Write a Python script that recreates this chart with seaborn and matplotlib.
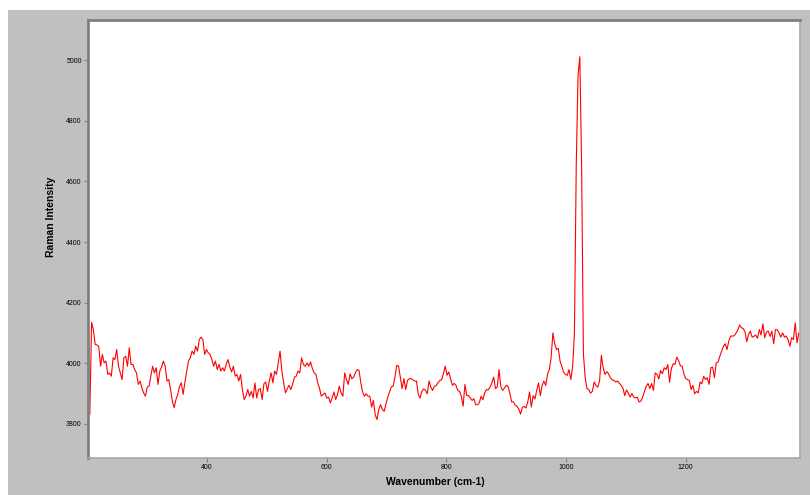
import numpy as np
import pandas as pd
import matplotlib
matplotlib.use("Agg")
import matplotlib.pyplot as plt
from matplotlib.patches import Rectangle
import seaborn as sns

# ---- data (3 cm-1 sampling) ----
seg1_start = 204
seg1 = [3830, 4135, 4110, 4062, 4060, 4055, 3990, 4029, 4001, 4007,
        3963, 3968, 3957, 4018, 4012, 4045, 3990, 3968, 3946, 4018,
        4023, 3990, 4051, 3996, 3996, 3979, 3968, 3930, 3941, 3919,
        3902, 3891, 3921, 3924, 3957, 3990, 3968, 3985, 3930, 3974,
        3987, 4007, 3990, 3941, 3946, 3913, 3875, 3853, 3880, 3897,
        3924, 3935, 3897, 3938, 3974, 4007, 4018, 4040, 4029, 4056,
        4040, 4078, 4086, 4078, 4029, 4045, 4034]
seg2_start = 405
seg2 = [4029, 4012, 3990, 4007, 3979, 3996, 3974, 3985, 3974, 3996,
        4012, 3987, 3971, 3990, 3957, 3963, 3941, 3963, 3913, 3880,
        3891, 3913, 3891, 3907, 3885, 3935, 3885, 3913, 3916, 3880,
        3932, 3938, 3907, 3941, 3968, 3935, 3974, 3963, 4001, 4040,
        3974, 3935, 3902, 3916, 3927, 3913, 3930, 3954, 3957, 3974,
        3968, 4018, 3996, 3990, 4001, 3990, 4004, 3982, 3968, 3963,
        3935, 3916, 3891, 3897, 3902, 3885, 3888, 3869, 3885, 3905]
seg3_start = 615
seg3 = [3880, 3897, 3924, 3902, 3891, 3968, 3946, 3930, 3965, 3949,
        3954, 3969, 3979, 3976, 3935, 3905, 3891, 3899, 3891, 3891,
        3855, 3877, 3830, 3814, 3847, 3863, 3847, 3841, 3866, 3888,
        3905, 3922, 3924, 3954, 3993, 3990, 3954, 3916, 3949, 3913,
        3943, 3949, 3949, 3945, 3941, 3941, 3897, 3885, 3907, 3915,
        3911, 3899, 3941, 3921, 3910, 3924, 3926, 3936, 3943, 3945,
        3965, 3990, 3960, 3971, 3949, 3927, 3933, 3927, 3910]
seg4_start = 822
seg4 = [3907, 3891, 3858, 3930, 3893, 3893, 3885, 3877, 3883, 3863,
        3863, 3869, 3891, 3879, 3902, 3913, 3912, 3921, 3935, 3954,
        3916, 3921, 3979, 3921, 3910, 3918, 3927, 3924, 3901, 3872,
        3873, 3861, 3858, 3849, 3832, 3855, 3857, 3852, 3872, 3905,
        3855, 3893, 3882, 3911, 3935, 3893, 3927, 3941, 3926, 3963,
        3979, 4018, 4100, 4064, 4045, 4049, 4007, 3988, 3970, 3963,
        3960, 3979, 3946, 3990, 4100, 4650, 4950, 5012, 4650, 4030]
seg5_start = 1032
seg5 = [3952, 3916, 3913, 3901, 3907, 3938, 3927, 3921, 3941, 4026,
        3985, 3963, 3972, 3965, 3952, 3945, 3943, 3938, 3941, 3934,
        3927, 3918, 3893, 3912, 3902, 3888, 3900, 3889, 3885, 3888,
        3872, 3875, 3888, 3907, 3924, 3933, 3916, 3933, 3910, 3968,
        3963, 3948, 3976, 3965, 3985, 3979, 3996, 3937, 3982, 3998,
        3996, 4020, 4009, 3992, 3990, 3965, 3949, 3946, 3943, 3913,
        3927, 3899, 3907, 3902, 3938, 3932, 3957, 3946, 3952, 3930,
        3985]
seg6_start = 1245
seg6 = [3987, 3952, 4001, 4004, 4023, 4040, 4056, 4064, 4045, 4073,
        4089, 4090, 4090, 4099, 4109, 4126, 4117, 4115, 4104, 4071,
        4095, 4106, 4086, 4089, 4093, 4082, 4111, 4093, 4130, 4084,
        4103, 4106, 4088, 4106, 4064, 4111, 4110, 4100, 4086, 4100,
        4086, 4090, 4078, 4056, 4084, 4078, 4133, 4067, 4100]
step_cm = 3

x_ticks = [400, 600, 800, 1000, 1200]
y_ticks = [3800, 4000, 4200, 4400, 4600, 4800, 5000]
x_label = "Wavenumber (cm-1)"
y_label = "Raman Intensity"

segments = [(seg1_start, seg1), (seg2_start, seg2), (seg3_start, seg3),
            (seg4_start, seg4), (seg5_start, seg5), (seg6_start, seg6)]
wn, inten = [], []
for s, vals in segments:
    wn.extend(s + step_cm * np.arange(len(vals)))
    inten.extend(vals)
df = pd.DataFrame({"wavenumber": wn, "intensity": inten})

# ---- styling ----
sns.set_style("white")
plt.rcParams["font.family"] = ["Liberation Sans", "DejaVu Sans"]

W, H = 810, 495
fig = plt.figure(figsize=(W / 100, H / 100), dpi=100)
fig.patch.set_facecolor("white")
fig.patches.append(Rectangle((8 / W, 0), 1 - 8 / W, 1 - 10 / H,
                             transform=fig.transFigure, facecolor="#c0c0c0",
                             edgecolor="none", zorder=-10))

ax = fig.add_axes([88 / W, 1 - 458 / H, (800 - 88) / W, (458 - 20) / H])
ax.set_facecolor("white")

sns.lineplot(data=df, x="wavenumber", y="intensity", ax=ax, color="#ff0000",
             linewidth=0.8, estimator=None, sort=False)

ax.set_xlim(201, 1391)
ax.set_ylim(3687, 5133)
ax.set_xticks(x_ticks)
ax.set_yticks(y_ticks)
ax.tick_params(axis="both", which="major", direction="out", length=3,
               width=0.8, color="#808080", labelsize=5, pad=1.5,
               labelcolor="#000000", bottom=True, left=True)

for side in ["left", "top"]:
    ax.spines[side].set_color("#808080")
    ax.spines[side].set_linewidth(2.0)
for side in ["right", "bottom"]:
    ax.spines[side].set_color("#a8a8a8")
    ax.spines[side].set_linewidth(1.2)

ax.set_xlabel(x_label, fontsize=7.5, fontweight="bold", color="#000000")
ax.set_ylabel(y_label, fontsize=7.5, fontweight="bold", color="#000000")
ax.xaxis.label.set_va("center")
ax.xaxis.label.set_ha("center")
ax.yaxis.label.set_va("center")
ax.yaxis.label.set_ha("center")
ax.xaxis.set_label_coords((435.5 - 88) / 712, (458 - 482) / 438)
ax.yaxis.set_label_coords((50.7 - 88) / 712, (458 - 217) / 438)

fig.savefig("out.png", dpi=100, facecolor=fig.get_facecolor())
